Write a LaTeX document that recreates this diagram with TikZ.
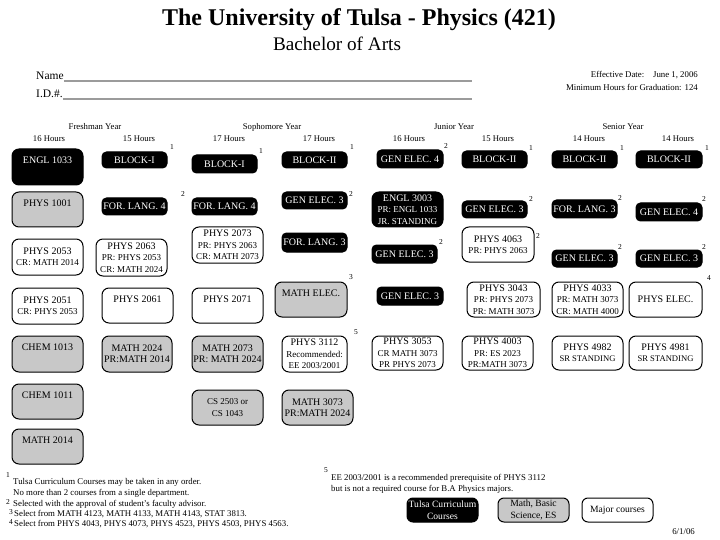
\documentclass[tikz,border=0pt]{standalone}
\usepackage{fontspec}
\setmainfont{Liberation Serif}
\definecolor{boxgray}{RGB}{200,200,200}
\definecolor{linegray}{RGB}{155,155,155}
\newcommand{\sm}{\fontsize{9}{11.3}\selectfont}
\newcommand{\smm}{\fontsize{8.6}{11.3}\selectfont}
% course box with centred text
\newcommand{\crs}[7]{\node[#1, minimum width={(#5-#3)*1pt}, minimum height={(#6-#4)*1pt}] (#2) at ({(#3+#5)/2},{(#4+#6)/2}) {#7};}
% course box with text near the top
\newcommand{\crt}[7]{\node[#1, minimum width={(#5-#3)*1pt}, minimum height={(#6-#4)*1pt}] (#2) at ({(#3+#5)/2},{(#4+#6)/2}) {};
  \node[#1txt, anchor=base] (#2t) at ([yshift=-15pt]#2.north) {#7};}
\tikzset{
  cb/.style={rounded corners=7pt, line width=1pt, inner sep=0pt, align=center,
    font=\fontsize{10}{11.3}\selectfont},
  blk/.style={cb, draw=black, fill=black, text=white},
  sblk/.style={blk, rounded corners=4.5pt},
  gry/.style={cb, draw=black, fill=boxgray},
  wht/.style={cb, draw=black, fill=white},
  blktxt/.style={inner sep=0pt, text=white, font=\fontsize{10}{11.3}\selectfont},
  grytxt/.style={inner sep=0pt, font=\fontsize{10}{11.3}\selectfont},
  whttxt/.style={inner sep=0pt, font=\fontsize{10}{11.3}\selectfont},
  supn/.style={inner sep=0pt, font=\fontsize{7.5}{7.5}\selectfont},
  hdr/.style={inner sep=0pt, font=\fontsize{8.7}{10}\selectfont},
  foot/.style={inner sep=0pt, anchor=west, font=\fontsize{8.8}{10}\selectfont},
  nameline/.style={draw=linegray, line width=1.6pt},
  lg/.style={rounded corners=6pt, font=\fontsize{9.6}{12}\selectfont},
}
\begin{document}
\begin{tikzpicture}[x=1pt,y=-1pt]
\useasboundingbox (0,0) rectangle (720,540);
\fill[white] (0,0) rectangle (720,540);

% ---------- header ----------
\node[font=\bfseries\fontsize{24}{24}\selectfont, inner sep=0pt] (title) at (359,20) {The University of Tulsa - Physics (421)};
\node[font=\fontsize{19.2}{20}\selectfont, inner sep=0pt] (subtitle) at (337,44) {Bachelor of Arts};

\node[anchor=west, inner sep=0pt, font=\fontsize{11.5}{12}\selectfont] (name) at (36,76) {Name};
\coordinate (nameend) at (472,81);
\draw[nameline] (name.south east) ++(0,1) coordinate (namestart) -- (namestart -| nameend);
\node[anchor=west, inner sep=0pt, font=\fontsize{11.5}{12}\selectfont] (idn) at (36,94) {I.D.\#.};
\draw[nameline] (idn.south east) ++(0,1) coordinate (idstart) -- (idstart -| nameend);

\node[anchor=east, inner sep=0pt, font=\fontsize{8.8}{10}\selectfont] (eff) at (698,75) {Effective Date:\quad June 1, 2006};
\node[anchor=east, inner sep=0pt, font=\fontsize{8.8}{10}\selectfont] (minh) at (698,87) {Minimum Hours for Graduation: 124};

\node[hdr] (fy) at (95,127) {Freshman Year};
\node[hdr] (soy) at (272,127) {Sophomore Year};
\node[hdr] (jy) at (454,127) {Junior Year};
\node[hdr] (sey) at (623,127) {Senior Year};
\node[hdr] (h1) at (49,139) {16 Hours};
\node[hdr] (h2) at (139,139) {15 Hours};
\node[hdr] (h3) at (229,139) {17 Hours};
\node[hdr] (h4) at (319,139) {17 Hours};
\node[hdr] (h5) at (409,139) {16 Hours};
\node[hdr] (h6) at (498,139) {15 Hours};
\node[hdr] (h7) at (589,139) {14 Hours};
\node[hdr] (h8) at (678,139) {14 Hours};

% ---------- column 1 ----------
\crt{blk}{engl1033}{12}{149}{83}{185}{ENGL 1033}
\crt{gry}{phys1001}{12}{192}{83}{227}{PHYS 1001}
\crs{wht}{phys2053}{12}{239}{83}{275}{PHYS 2053\\{\sm CR: MATH 2014}}
\crs{wht}{phys2051}{12}{288}{83}{324}{PHYS 2051\\{\sm CR: PHYS 2053}}
\crt{gry}{chem1013}{12}{336}{83}{372}{CHEM 1013}
\crt{gry}{chem1011}{12}{384}{83}{419}{CHEM 1011}
\crt{gry}{math2014}{12}{429}{83}{464}{MATH 2014}

% ---------- column 2 ----------
\crs{sblk}{blocka}{102}{152}{167}{168}{BLOCK-I}
\node[supn] (sblocka) at (172,147) {1};
\crs{sblk}{forlanga}{102}{198}{167}{215}{FOR. LANG. 4}
\node[supn] (sforlanga) at (183,194) {2};
\crs{wht}{phys2063}{96}{239}{167}{276}{PHYS 2063\\{\sm PR: PHYS 2053}\\{\sm CR: MATH 2024}}
\crt{wht}{phys2061}{102}{288}{173}{323}{PHYS 2061}
\crs{gry}{math2024}{102}{336}{172}{372}{MATH 2024\\PR:MATH 2014}

% ---------- column 3 ----------
\crs{sblk}{blockb}{192}{155}{257}{173}{BLOCK-I}
\node[supn] (sblockb) at (261,151) {1};
\crs{sblk}{forlangb}{192}{198}{257}{215}{FOR. LANG. 4}
\crs{wht}{phys2073}{192}{227}{263}{263}{PHYS 2073\\{\sm PR: PHYS 2063}\\{\sm CR: MATH 2073}}
\crt{wht}{phys2071}{192}{288}{263}{323}{PHYS 2071}
\crs{gry}{math2073}{192}{336}{263}{372}{MATH 2073\\PR: MATH 2024}
\crs{gry}{cs2503}{192}{390}{263}{425}{{\sm CS 2503 or}\\{\sm CS 1043}}

% ---------- column 4 ----------
\crs{sblk}{blockc}{282}{152}{347}{168}{BLOCK-II}
\node[supn] (sblockc) at (352,147) {1};
\crs{sblk}{genelecd}{282}{192}{347}{209}{GEN ELEC. 3}
\node[supn] (sgenelecd) at (351,194) {2};
\crs{sblk}{forlangc}{282}{233}{347}{252}{FOR. LANG. 3}
\crt{gry}{mathelec}{275}{282}{347}{317}{MATH ELEC.}
\node[supn] (smathelec) at (351,277) {3};
\crs{wht}{phys3112}{282}{336}{347}{372}{PHYS 3112\\{\sm Recommended:}\\{\sm EE 2003/2001}}
\node[supn] (sphys3112) at (356,332) {5};
\crs{gry}{math3073}{282}{390}{353}{425}{MATH 3073\\PR:MATH 2024}

% ---------- column 5 ----------
\crs{sblk}{genelece}{377}{150}{443}{168}{GEN ELEC. 4}
\node[supn] (sgenelece) at (446,146) {2};
\crs{blk}{engl3003}{372}{192}{443}{227}{ENGL 3003\\{\sm PR: ENGL 1033}\\{\sm JR. STANDING}}
\crs{sblk}{genelecf}{372}{245}{437}{263}{GEN ELEC. 3}
\node[supn] (sgenelecf) at (441,242) {2};
\crs{sblk}{genelecg}{377}{287}{443}{305}{GEN ELEC. 3}
\crs{wht}{phys3053}{372}{336}{443}{370}{PHYS 3053\\{\sm CR MATH 3073}\\{\sm PR PHYS 2073}}

% ---------- column 6 ----------
\crs{sblk}{blockd}{462}{151}{527}{168}{BLOCK-II}
\node[supn] (sblockd) at (531,148) {1};
\crs{sblk}{genelech}{462}{201}{527}{218}{GEN ELEC. 3}
\node[supn] (sgenelech) at (531,199) {2};
\crs{wht}{phys4063}{462}{227}{534}{262}{PHYS 4063\\{\sm PR: PHYS 2063}}
\node[supn] (sphys4063) at (538,236) {2};
\crs{wht}{phys3043}{467}{282}{540}{317}{PHYS 3043\\{\sm PR: PHYS 2073}\\{\sm PR: MATH 3073}}
\crs{wht}{phys4003}{462}{336}{533}{370}{PHYS 4003\\{\sm PR: ES 2023}\\{\sm PR:MATH 3073}}

% ---------- column 7 ----------
\crs{sblk}{blocke}{552}{151}{617}{168}{BLOCK-II}
\node[supn] (sblocke) at (622,148) {1};
\crs{sblk}{forlangd}{552}{200}{617}{218}{FOR. LANG. 3}
\node[supn] (sforlangd) at (620,198) {2};
\crs{sblk}{geneleci}{552}{250}{617}{267}{GEN ELEC. 3}
\node[supn] (sgeneleci) at (620,247) {2};
\crs{wht}{phys4033}{552}{282}{623}{317}{PHYS 4033\\{\sm PR: MATH 3073}\\{\sm CR: MATH 4000}}
\crs{wht}{phys4982}{552}{336}{623}{370}{PHYS 4982\\{\smm SR STANDING}}

% ---------- column 8 ----------
\crs{sblk}{blockf}{636}{151}{702}{168}{BLOCK-II}
\node[supn] (sblockf) at (707,148) {1};
\crs{sblk}{genelecj}{636}{203}{702}{221}{GEN ELEC. 4}
\node[supn] (sgenelecj) at (704,199) {2};
\crs{sblk}{geneleck}{636}{250}{702}{267}{GEN ELEC. 3}
\node[supn] (sgeneleck) at (704,247) {2};
\crs{wht}{physelec}{629}{282}{702}{317}{PHYS ELEC.}
\node[supn] (sphyselec) at (709,278) {4};
\crs{wht}{phys4981}{629}{336}{702}{370}{PHYS 4981\\{\smm SR STANDING}}

% ---------- footnotes ----------
\node[supn] (f1s) at (8,475) {1};
\node[foot] (f1a) at (13,482) {Tulsa Curriculum Courses may be taken in any order.};
\node[foot] (f1b) at (13,493) {No more than 2 courses from a single department.};
\node[supn] (f2s) at (8,502) {2};
\node[foot] (f2) at (13,504) {Selected with the approval of student’s faculty advisor.};
\node[supn] (f3s) at (11,512) {3};
\node[foot] (f3) at (14,514) {Select from MATH 4123, MATH 4133, MATH 4143, STAT 3813.};
\node[supn] (f4s) at (11,522) {4};
\node[foot] (f4) at (14,524) {Select from PHYS 4043, PHYS 4073, PHYS 4523, PHYS 4503, PHYS 4563.};

\node[supn] (f5s) at (326,470) {5};
\node[foot] (f5a) at (331,478) {EE 2003/2001 is a recommended prerequisite of PHYS 3112};
\node[foot] (f5b) at (331,489) {but is not a required course for B.A Physics majors.};

% ---------- legend ----------
\crs{blk,lg}{leg1}{407}{498}{478}{522}{Tulsa Curriculum\\Courses}
\crs{gry,lg}{leg2}{498}{498}{569}{522}{Math, Basic\\Science, ES}
\crs{wht,lg}{leg3}{582}{498}{653}{522}{Major courses}

\node[anchor=east, inner sep=0pt, font=\fontsize{8.8}{10}\selectfont] (date) at (695,532) {6/1/06};
\end{tikzpicture}
\end{document}
